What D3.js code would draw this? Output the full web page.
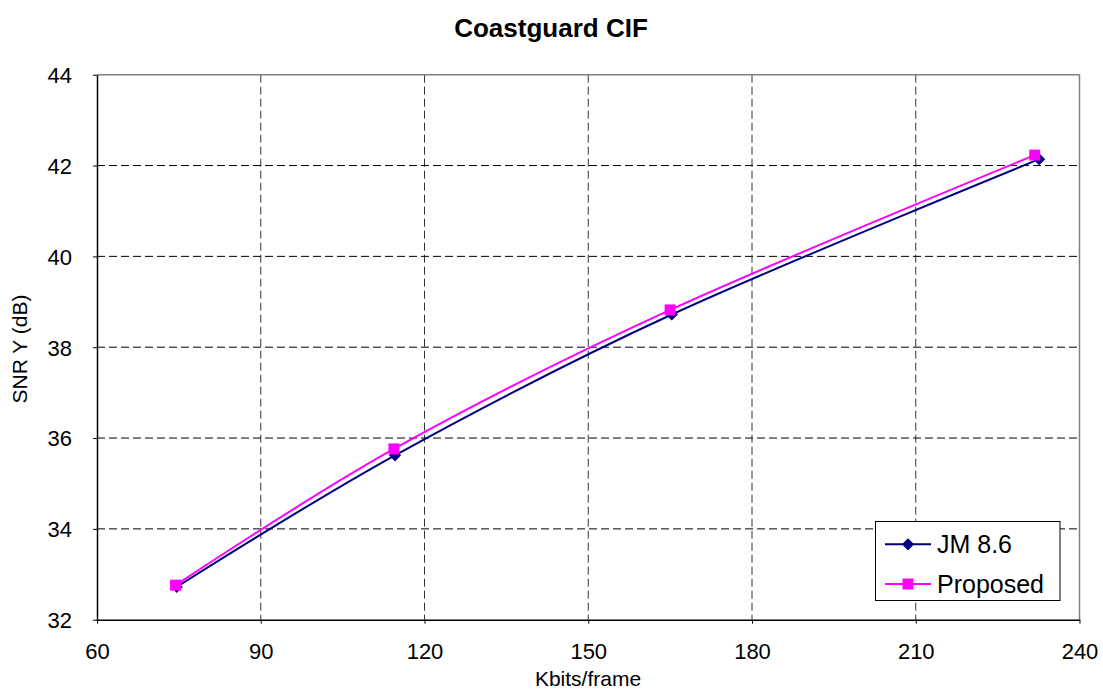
<!DOCTYPE html>
<html>
<head>
<meta charset="utf-8">
<script src="https://cdn.jsdelivr.net/npm/d3@7"></script>
<style>
  html, body { margin: 0; padding: 0; background: #fff; }
  svg { display: block; font-family: "Liberation Sans", Arial, sans-serif; }
</style>
</head>
<body>
<svg id="chart" width="1103" height="691"></svg>
<script>
const title = "Coastguard CIF";
const xTitle = "Kbits/frame";
const yTitle = "SNR Y (dB)";
const xTicks = [60, 90, 120, 150, 180, 210, 240];
const yTicks = [32, 34, 36, 38, 40, 42, 44];
const seriesNames = ["JM 8.6", "Proposed"];
const jmX = [74.6, 114.6, 165.3, 232.6];
const jmY = [32.72, 35.62, 38.72, 42.14];
const propX = [74.4, 114.4, 165.0, 231.8];
const propY = [32.76, 35.76, 38.82, 42.23];

(function () {
const svg = d3.select("#chart");
const pL = 97, pR = 1079.5, pT = 74.7, pB = 619.7;

const x = d3.scaleLinear().domain([60, 240]).range([pL, pR]);
const y = d3.scaleLinear().domain([32, 44]).range([pB, pT]);

// title
svg.append("text").attr("x", 551).attr("y", 37).attr("text-anchor", "middle")
  .attr("font-size", 26).attr("font-weight", "bold").text(title);

// gridlines
const g = svg.append("g");
g.selectAll(".vg").data(xTicks.slice(1, -1)).join("line")
  .attr("x1", d => x(d)).attr("x2", d => x(d)).attr("y1", pT).attr("y2", pB)
  .attr("stroke", "#333").attr("stroke-width", 1).attr("stroke-dasharray", "8,4");
g.selectAll(".hg").data(yTicks.slice(1, -1)).join("line")
  .attr("x1", pL).attr("x2", pR).attr("y1", d => y(d)).attr("y2", d => y(d))
  .attr("stroke", "#000").attr("stroke-width", 1).attr("stroke-dasharray", "8,4");

// plot area border (top & right gray)
svg.append("line").attr("x1", pL).attr("x2", pR).attr("y1", pT).attr("y2", pT)
  .attr("stroke", "#808080").attr("stroke-width", 1.5);
svg.append("line").attr("x1", pR).attr("x2", pR).attr("y1", pT).attr("y2", pB)
  .attr("stroke", "#808080").attr("stroke-width", 1.5);

// axes
const xAxis = svg.append("g").attr("transform", `translate(0,${pB})`)
  .call(d3.axisBottom(x).tickValues(xTicks).tickSize(4).tickSizeOuter(0).tickPadding(20));
const yAxis = svg.append("g").attr("transform", `translate(${pL},0)`)
  .call(d3.axisLeft(y).tickValues(yTicks).tickSize(4).tickSizeOuter(0).tickPadding(21));
[xAxis, yAxis].forEach(a => {
  a.select(".domain").attr("stroke", "#000").attr("stroke-width", 1.5);
  a.selectAll(".tick line").attr("stroke", "#000");
  a.selectAll(".tick text").attr("font-size", 22).attr("fill", "#000")
    .attr("font-family", "'Liberation Sans', Arial, sans-serif");
});
yAxis.selectAll(".tick text").attr("dy", "0.36em");

// axis titles
svg.append("text").attr("x", 588).attr("y", 686).attr("text-anchor", "middle")
  .attr("font-size", 21).text(xTitle);
svg.append("text").attr("transform", "translate(27,349) rotate(-90)")
  .attr("text-anchor", "middle").attr("font-size", 21).text(yTitle);

// lines
const line = d3.line().x(d => x(d[0])).y(d => y(d[1])).curve(d3.curveCardinal.tension(0));
const jm = jmX.map((v, i) => [v, jmY[i]]);
const pr = propX.map((v, i) => [v, propY[i]]);
const colors = ["#000080", "#FF00FF"];

svg.append("path").datum(jm).attr("d", line).attr("fill", "none")
  .attr("stroke", colors[0]).attr("stroke-width", 2);
svg.append("path").datum(pr).attr("d", line).attr("fill", "none")
  .attr("stroke", colors[1]).attr("stroke-width", 2);

const diamond = d3.symbol().type(d3.symbolDiamond2).size(95);
const sq = 11;
svg.selectAll(".jmm").data(jm).join("path")
  .attr("transform", d => `translate(${x(d[0])},${y(d[1])})`)
  .attr("d", diamond).attr("fill", colors[0]);
svg.selectAll(".prm").data(pr).join("rect")
  .attr("x", d => x(d[0]) - sq / 2).attr("y", d => y(d[1]) - sq / 2)
  .attr("width", sq).attr("height", sq).attr("fill", colors[1]);

// legend
const lg = svg.append("g");
lg.append("rect").attr("x", 875.5).attr("y", 521.5).attr("width", 184.5).attr("height", 79)
  .attr("fill", "#fff").attr("stroke", "#000").attr("stroke-width", 1);
const ly = [544.3, 584];
seriesNames.forEach((n, i) => {
  lg.append("line").attr("x1", 885).attr("x2", 931).attr("y1", ly[i]).attr("y2", ly[i])
    .attr("stroke", colors[i]).attr("stroke-width", 2);
  if (i === 0) {
    lg.append("path").attr("transform", `translate(908,${ly[i]})`).attr("d", diamond).attr("fill", colors[i]);
  } else {
    lg.append("rect").attr("x", 908 - sq / 2).attr("y", ly[i] - sq / 2).attr("width", sq).attr("height", sq).attr("fill", colors[i]);
  }
  lg.append("text").attr("x", 937).attr("y", ly[i] + 8.5).attr("font-size", 25).text(n);
});
})();
</script>
</body>
</html>
